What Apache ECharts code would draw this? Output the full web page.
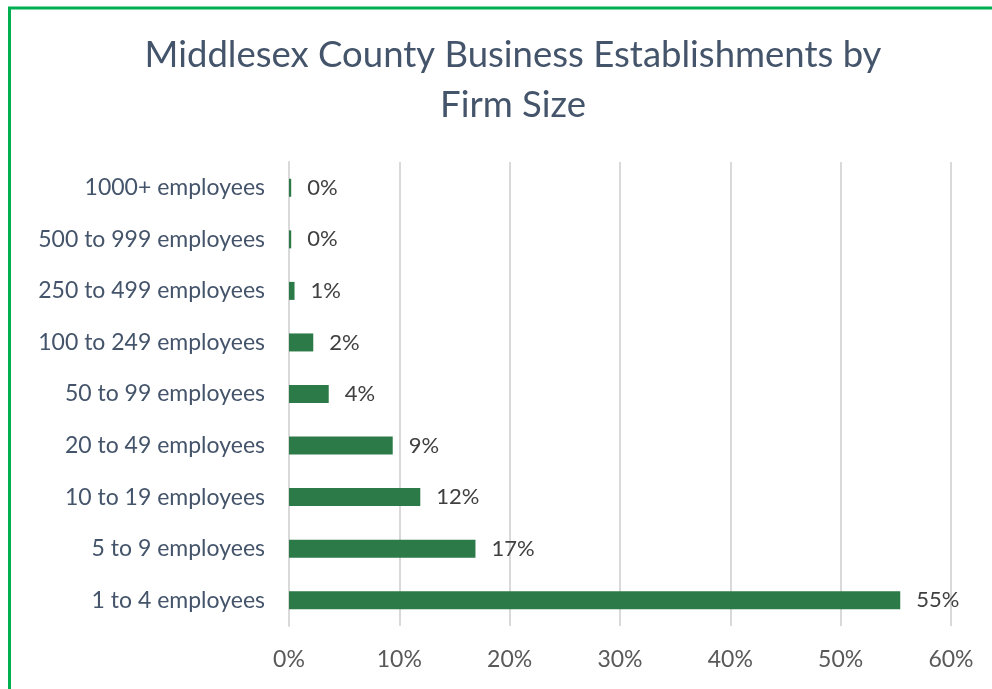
<!DOCTYPE html>
<html>
<head>
<meta charset="utf-8">
<script src="https://cdn.jsdelivr.net/npm/echarts@6/dist/echarts.min.js"></script>
<style>
html,body{margin:0;padding:0;background:#fff;}
#chart{width:992px;height:689px;}
</style>
</head>
<body>
<div id="chart"></div>
<script>
var titleText = 'Middlesex County Business Establishments by\nFirm Size';
var categories = ['1 to 4 employees','5 to 9 employees','10 to 19 employees','20 to 49 employees','50 to 99 employees','100 to 249 employees','250 to 499 employees','500 to 999 employees','1000+ employees'];
var shares = [55.4, 16.9, 11.9, 9.4, 3.6, 2.2, 0.5, 0.2, 0.2];
var xTicks = {min: 0, max: 60, interval: 10};

var chart = echarts.init(document.getElementById('chart'));
var fontFam = 'Lato, "Open Sans", sans-serif';
chart.setOption({
  animation: false,
  backgroundColor: '#ffffff',
  graphic: [{
    type: 'polyline',
    shape: {points: [[9.5, 700], [9.5, 8], [1000, 8]]},
    style: {stroke: '#00B050', lineWidth: 3, fill: null},
    silent: true
  }],
  title: {
    text: titleText,
    left: 508,
    textAlign: 'center',
    top: 25,
    textStyle: {fontFamily: fontFam, fontSize: 36.5, fontWeight: 'normal', color: '#44546A', lineHeight: 50}
  },
  grid: {left: 289, right: 41, top: 162, bottom: 63, containLabel: false},
  xAxis: {
    type: 'value',
    min: xTicks.min, max: xTicks.max, interval: xTicks.interval,
    axisLine: {show: false},
    axisTick: {show: false},
    splitLine: {lineStyle: {color: '#D9D9D9', width: 2}},
    axisLabel: {formatter: '{value}%', color: '#595959', fontFamily: fontFam, fontSize: 23, margin: 22}
  },
  yAxis: {
    type: 'category',
    data: categories,
    axisLine: {show: true, lineStyle: {color: '#D9D9D9', width: 2}},
    axisTick: {show: false},
    axisLabel: {color: '#44546A', fontFamily: fontFam, fontSize: 23, margin: 24}
  },
  series: [{
    type: 'bar',
    data: shares,
    barWidth: 18,
    itemStyle: {color: '#2C7A47'},
    label: {
      show: true, position: 'right', distance: 16,
      color: '#404040', fontFamily: fontFam, fontSize: 22,
      formatter: function (p) { return Math.round(p.value) + '%'; }
    }
  }]
});
</script>
</body>
</html>
